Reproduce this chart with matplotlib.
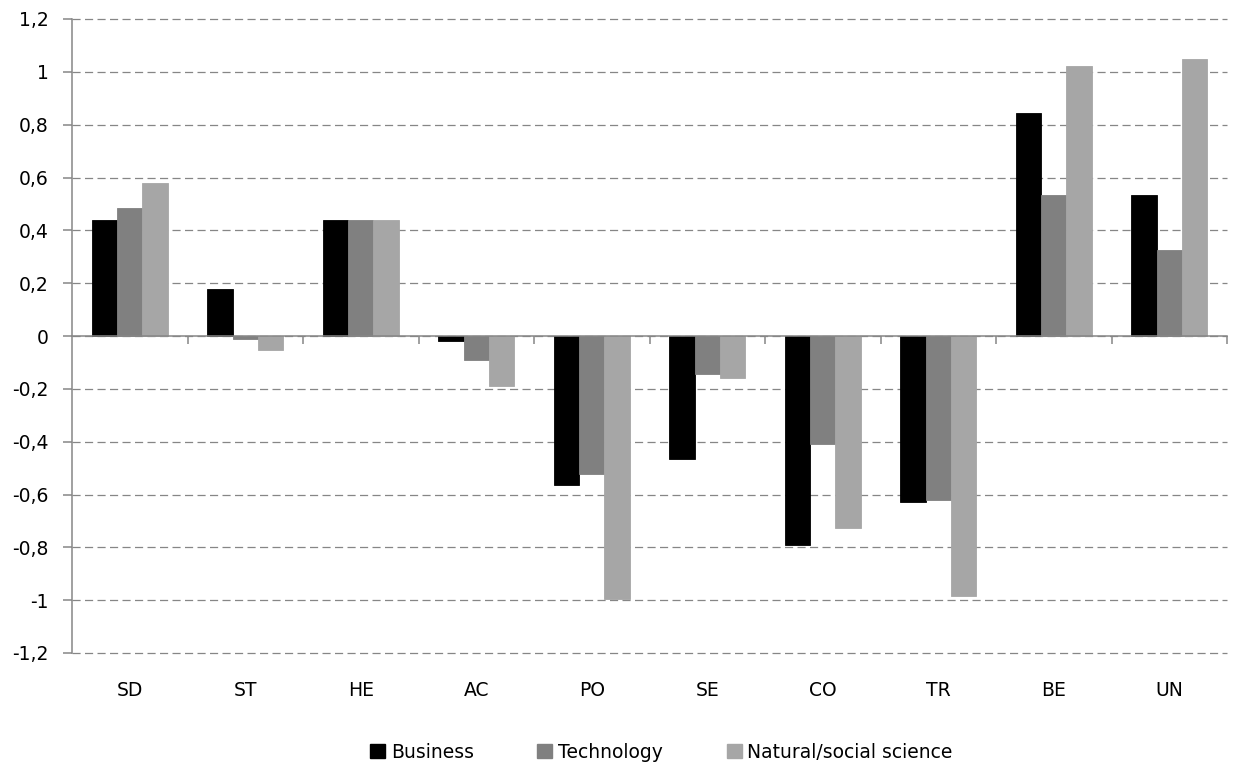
import matplotlib
matplotlib.use("Agg")
import matplotlib.pyplot as plt
import numpy as np
from matplotlib.patches import Patch
from matplotlib.ticker import FuncFormatter, FixedLocator
import matplotlib.transforms as mtransforms

plt.rcParams['font.family'] = ['DejaVu Sans']

categories = ["SD", "ST", "HE", "AC", "PO", "SE", "CO", "TR", "BE", "UN"]
business = [0.44, 0.178, 0.44, -0.019, -0.563, -0.466, -0.79, -0.628, 0.843, 0.532]
technology = [0.483, -0.011, 0.44, -0.089, -0.521, -0.145, -0.408, -0.621, 0.532, 0.326]
natsci = [0.58, -0.053, 0.44, -0.189, -0.997, -0.160, -0.727, -0.983, 1.021, 1.050]
series_names = ["Business", "Technology", "Natural/social science"]
colors = ["#000000", "#808080", "#A6A6A6"]
yticks = [-1.2, -1.0, -0.8, -0.6, -0.4, -0.2, 0.0, 0.2, 0.4, 0.6, 0.8, 1.0, 1.2]

FS = 13.5

fig = plt.figure(figsize=(12.34, 7.69), dpi=100)
ax = fig.add_axes([72/1234, 1-653/769, (1227-72)/1234, (653-19)/769])

x = np.arange(len(categories))
w = 0.22
for i, (vals, c) in enumerate(zip([business, technology, natsci], colors)):
    ax.bar(x + (i - 1) * w, vals, width=w, color=c, edgecolor=c, linewidth=0.6, zorder=3)

ax.set_xlim(-0.5, len(categories) - 0.5)
ax.set_ylim(-1.2, 1.2)
ax.yaxis.set_major_locator(FixedLocator(yticks))
ax.yaxis.set_major_formatter(FuncFormatter(lambda v, p: ("%g" % round(v, 1)).replace(".", ",")))
ax.grid(axis='y', color='#868686', linestyle=(0, (6.5, 3.5)), linewidth=0.9, zorder=0)
ax.set_axisbelow(True)
for gl in ax.get_ygridlines():
    gl.set_clip_on(False)

for s in ['top', 'right']:
    ax.spines[s].set_visible(False)
ax.spines['left'].set_color('#868686')
ax.spines['left'].set_linewidth(1.1)
ax.spines['bottom'].set_position(('data', 0))
ax.spines['bottom'].set_color('#868686')
ax.spines['bottom'].set_linewidth(1.1)
ax.spines['bottom'].set_zorder(4)

ax.tick_params(axis='y', direction='out', length=6.5, width=1.1, color='#868686',
               labelsize=FS, pad=10.5, labelcolor='black')
ax.set_xticks(np.arange(len(categories)) + 0.5)
ax.set_xticklabels([])
ax.tick_params(axis='x', direction='out', length=6, width=1.1, color='#868686')

trans = mtransforms.blended_transform_factory(ax.transData, ax.transAxes)
for xi, cat in zip(x, categories):
    ax.text(xi, -37/634, cat, transform=trans, ha='center', va='center', fontsize=FS)

handles = [Patch(facecolor=c, edgecolor=c) for c in colors]
fig.legend(handles, series_names, loc='center', bbox_to_anchor=(0.536, 1-752/769),
           ncol=3, frameon=False, fontsize=FS, handlelength=0.8, handleheight=0.8,
           handletextpad=0.3, columnspacing=3.4)

fig.savefig("out.png", dpi=100)
